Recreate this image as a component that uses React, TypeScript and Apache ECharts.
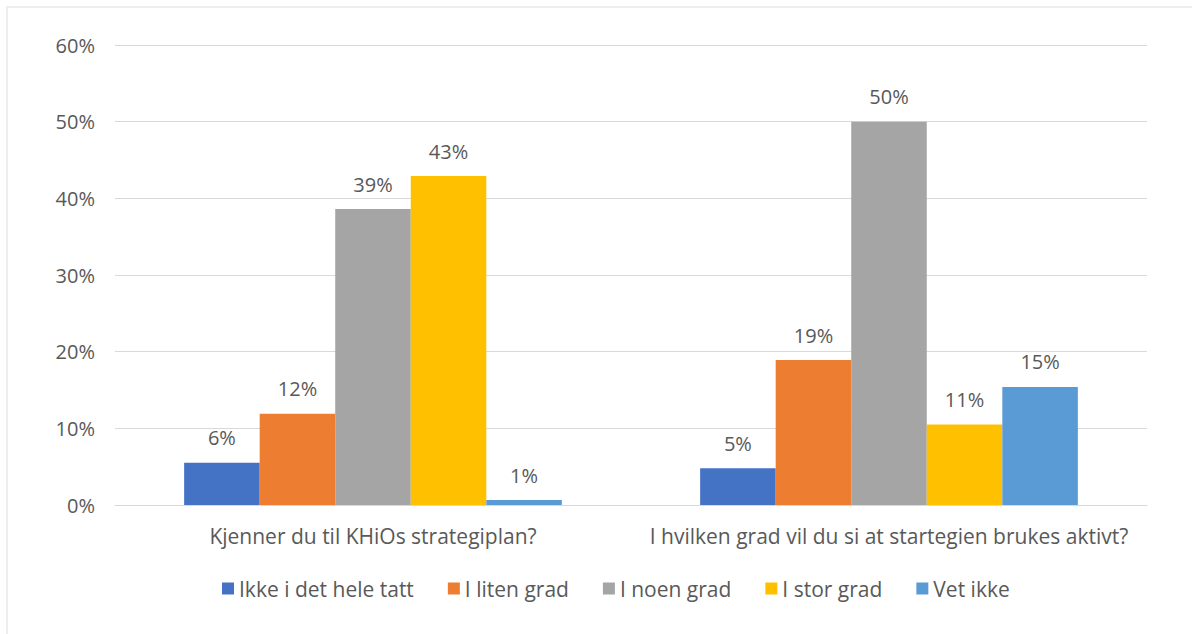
import React, { useEffect, useRef } from "react";
import * as echarts from "echarts";

const categories = ["Kjenner du til KHiOs strategiplan?", "I hvilken grad vil du si at startegien brukes aktivt?"];
const seriesNames = ["Ikke i det hele tatt", "I liten grad", "I noen grad", "I stor grad", "Vet ikke"];
const ikkeIDetHeleTatt = [5.5, 4.8];
const iLitenGrad = [11.9, 18.9];
const iNoenGrad = [38.6, 50.0];
const iStorGrad = [42.9, 10.5];
const vetIkke = [0.65, 15.4];
const seriesValues = [ikkeIDetHeleTatt, iLitenGrad, iNoenGrad, iStorGrad, vetIkke];
const colors = ["#4472C4", "#ED7D31", "#A5A5A5", "#FFC000", "#5B9BD5"];

const FONT = "'Open Sans', Lato, sans-serif";
const TEXT = "#595959";
const FS = 20;
const FS_BIG = 21;

export default function App() {
  const ref = useRef<HTMLDivElement>(null);
  useEffect(() => {
    if (!ref.current) return;
    const chart = echarts.init(ref.current, null, { renderer: "svg" });
    chart.setOption({
      animation: false,
      backgroundColor: "#ffffff",
      textStyle: { fontFamily: FONT },
      graphic: [
        {
          type: "rect",
          shape: { x: 7, y: 7, width: 1200, height: 640 },
          style: { fill: "none", stroke: "#eeeeee", lineWidth: 2 },
          silent: true,
        },
      ],
      grid: { left: 115, right: 45, top: 45, bottom: 129, containLabel: false },
      legend: {
        data: seriesNames,
        bottom: 30,
        left: 217,
        itemWidth: 12,
        itemHeight: 12,
        itemGap: 34,
        icon: "rect",
        textStyle: { color: TEXT, fontSize: FS_BIG, fontFamily: FONT },
      },
      xAxis: {
        type: "category",
        data: categories,
        axisLine: { show: true, lineStyle: { color: "#d9d9d9" } },
        axisTick: { show: false },
        axisLabel: { color: TEXT, fontSize: FS_BIG, fontFamily: FONT, margin: 20, interval: 0 },
      },
      yAxis: {
        type: "value",
        min: 0,
        max: 60,
        interval: 10,
        axisLine: { show: false },
        axisTick: { show: false },
        splitLine: { lineStyle: { color: "#d9d9d9", width: 1 } },
        axisLabel: { color: TEXT, fontSize: FS, fontFamily: FONT, margin: 20, formatter: "{value}%" },
      },
      series: seriesNames.map((name, i) => ({
        name,
        type: "bar",
        data: seriesValues[i],
        barGap: "0%",
        barCategoryGap: "26.8%",
        itemStyle: { color: colors[i] },
        label: {
          show: true,
          position: "top",
          distance: 15,
          color: TEXT,
          fontSize: FS,
          fontFamily: FONT,
          formatter: (p: any) => Math.round(p.value) + "%",
        },
      })),
    });
    return () => chart.dispose();
  }, []);
  return (
    <div
      ref={ref}
      style={{ position: "absolute", left: 0, top: 0, width: 1192, height: 634 }}
    />
  );
}
